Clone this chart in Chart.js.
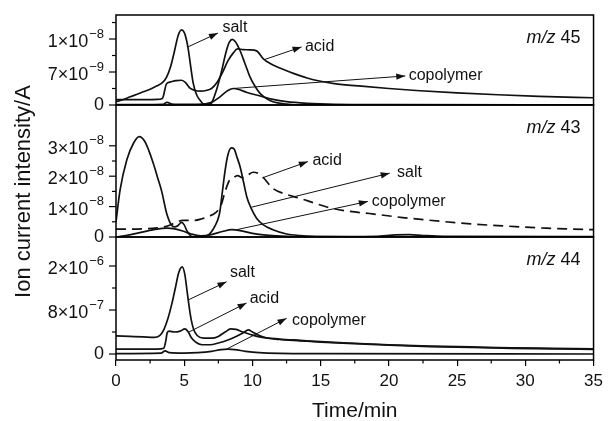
<!DOCTYPE html>
<html>
<head>
<meta charset="utf-8">
<script src="https://cdn.jsdelivr.net/npm/chart.js@4.4.1/dist/chart.umd.min.js"></script>
<style>
  html, body { margin: 0; padding: 0; background: #fff; }
  canvas { display: block; }
</style>
</head>
<body>
<canvas id="c" width="608" height="421"></canvas>
<script>
// ---- m/z 45 (values in 1e-9 A) ----
const tSalt45 = [0, 0.5, 1, 1.5, 2, 2.5, 3, 3.4, 3.7, 4.0, 4.3, 4.55, 4.8, 5.0, 5.15, 5.3, 5.45, 5.65, 5.9, 6.15, 6.5, 6.8, 7.0, 7.37, 7.7, 8.1, 8.3, 8.52, 8.75, 9.08, 9.45, 9.81, 10.2, 10.54, 11.0, 11.5, 12.5, 13.5, 20, 27, 35];
const vSalt45 = [0.5, 0.8, 1.2, 1.6, 2.0, 2.4, 2.9, 3.4, 4.2, 5.8, 8.3, 10.5, 11.4, 11.0, 10.0, 8.4, 6.2, 3.4, 1.6, 0.75, 0.05, 0.05, 0.3, 2.3, 4.8, 8.3, 9.5, 9.95, 9.6, 8.3, 6.3, 4.3, 2.8, 1.8, 1.0, 0.5, 0.15, 0.0, 0.0, 0.0, 0.0];
const tAcid45 = [0, 1, 2, 3, 3.4, 3.7, 4.0, 4.4, 4.8, 5.1, 5.4, 5.8, 6.2, 6.6, 7.0, 7.4, 7.8, 8.2, 8.6, 8.9, 9.3, 9.8, 10.3, 10.8, 11.3, 12, 13, 14, 15, 16, 18, 20, 22, 25, 28, 31, 35];
const vAcid45 = [0.8, 0.8, 0.8, 0.85, 1.0, 3.2, 3.5, 3.7, 3.75, 3.4, 2.6, 2.2, 2.1, 2.2, 2.5, 3.4, 4.9, 6.7, 7.9, 8.5, 8.4, 8.35, 8.2, 7.0, 6.3, 5.6, 4.8, 4.1, 3.6, 3.25, 2.85, 2.5, 2.2, 1.85, 1.55, 1.3, 1.1];
const tCopo45 = [0, 3.4, 3.75, 4.1, 5, 6, 7, 7.6, 8.2, 8.6, 9.0, 9.6, 10.5, 11.5, 12.5, 14, 16, 20, 35];
const vCopo45 = [0.05, 0.1, 0.4, 0.15, 0.1, 0.1, 0.4, 1.2, 2.2, 2.5, 2.35, 1.9, 1.4, 0.85, 0.5, 0.25, 0.1, 0.05, 0.0];

// ---- m/z 43 (values in 1e-8 A) ----
const tSalt43 = [0, 0.3, 0.8, 1.3, 1.7, 2.1, 2.4, 2.75, 3.05, 3.35, 3.7, 4.05, 4.3, 4.55, 4.8, 5.0, 5.2, 5.5, 5.8, 6.3, 6.8, 7.1, 7.4, 7.6, 7.8, 8.0, 8.2, 8.45, 8.65, 8.85, 9.1, 9.35, 9.6, 9.9, 10.3, 10.8, 11.5, 12.5, 13.5, 15, 20, 35];
const vSalt43 = [0.5, 1.55, 2.55, 3.1, 3.3, 3.15, 2.85, 2.4, 1.95, 1.5, 0.8, 0.4, 0.33, 0.38, 0.48, 0.4, 0.2, 0.03, 0.0, 0.02, 0.08, 0.24, 0.5, 0.8, 1.5, 2.2, 2.7, 2.93, 2.9, 2.65, 2.3, 1.8, 1.3, 0.95, 0.62, 0.4, 0.24, 0.1, 0.05, 0.01, 0, 0];
const tAcid43 = [0, 1, 2, 3, 3.7, 4.1, 4.5, 4.9, 5.3, 5.8, 6.3, 6.8, 7.3, 7.7, 8.0, 8.3, 8.6, 8.9, 9.3, 9.7, 10.05, 10.4, 10.8, 11.5, 12.5, 13.5, 14.5, 15.5, 17, 18.8, 21, 23.7, 26, 28.6, 31.5, 35];
const vAcid43 = [0.26, 0.26, 0.27, 0.3, 0.35, 0.42, 0.5, 0.55, 0.55, 0.55, 0.6, 0.68, 0.8, 1.05, 1.5, 1.85, 1.95, 2.02, 1.95, 2.05, 2.13, 2.1, 1.95, 1.6, 1.4, 1.27, 1.12, 0.98, 0.85, 0.76, 0.64, 0.52, 0.43, 0.36, 0.29, 0.24];
const tCopo43 = [0, 1, 2, 3, 3.7, 4.3, 5, 5.5, 6.2, 7, 7.8, 8.5, 9.2, 10, 11, 12.5, 15, 19, 20.5, 21.5, 22.5, 24, 35];
const vCopo43 = [0.0, 0.07, 0.17, 0.26, 0.29, 0.27, 0.18, 0.1, 0.04, 0.08, 0.18, 0.24, 0.2, 0.12, 0.06, 0.02, 0.01, 0.02, 0.07, 0.08, 0.05, 0.02, 0.01];

// ---- m/z 44 (values in 1e-6 A) ----
const tSalt44 = [0, 1, 2, 2.8, 3.2, 3.5, 3.8, 4.1, 4.35, 4.6, 4.85, 5.05, 5.2, 5.35, 5.5, 5.7, 5.95, 6.4, 7.0, 7.5, 8.0, 8.4, 8.8, 9.3, 9.8, 10.5, 12, 13.5, 15, 17, 20, 23, 26, 29, 32, 35];
const vSalt44 = [0.41, 0.40, 0.39, 0.38, 0.42, 0.55, 0.8, 1.15, 1.5, 1.85, 1.98, 1.8, 1.45, 1.1, 0.8, 0.55, 0.42, 0.36, 0.36, 0.4, 0.5, 0.57, 0.56, 0.5, 0.45, 0.39, 0.34, 0.31, 0.28, 0.25, 0.21, 0.18, 0.16, 0.14, 0.13, 0.12];
const tAcid44 = [0, 1, 2, 3, 3.5, 3.65, 3.75, 3.9, 4.3, 4.7, 5.05, 5.3, 5.5, 5.8, 6.3, 6.9, 7.5, 8.2, 8.8, 9.3, 9.7, 10.0, 10.5, 11, 12, 13.5, 15, 17, 20, 23, 26, 29, 32, 35];
const vAcid44 = [0.11, 0.11, 0.11, 0.11, 0.13, 0.3, 0.48, 0.52, 0.5, 0.52, 0.57, 0.5, 0.38, 0.28, 0.21, 0.21, 0.25, 0.32, 0.4, 0.48, 0.55, 0.5, 0.42, 0.37, 0.33, 0.3, 0.27, 0.24, 0.2, 0.17, 0.15, 0.13, 0.115, 0.105];
const tCopo44 = [0, 3.3, 3.6, 3.9, 5, 6, 7, 7.7, 8.2, 8.7, 9.5, 10.5, 12, 15, 35];
const vCopo44 = [0.01, 0.02, 0.07, 0.03, 0.02, 0.03, 0.06, 0.1, 0.11, 0.1, 0.06, 0.03, 0.015, 0.01, 0.0];

// ---- axis ticks ----
const xTicksMinor = [2.5, 7.5, 12.5, 17.5, 22.5, 27.5, 32.5];
const yTicks45 = [0, 5, 10];
const yLabels45 = ['0', '7×10^-9', '1×10^-8'];
const yMinor45 = [2.5, 7.5, 12.5];
const yTicks43 = [0, 1, 2, 3];
const yLabels43 = ['0', '1×10^-8', '2×10^-8', '3×10^-8'];
const yMinor43 = [0.5, 1.5, 2.5];
const yTicks44 = [0, 1, 2];
const yLabels44 = ['0', '8×10^-7', '2×10^-6'];
const yMinor44 = [0.5, 1.5];

const FONT = '"Liberation Sans", Arial, Helvetica, sans-serif';
const INK = '#111';

const panels = [
  { id: 'y45', ion: '45', ticks: yTicks45, labels: yLabels45, minor: yMinor45 },
  { id: 'y43', ion: '43', ticks: yTicks43, labels: yLabels43, minor: yMinor43 },
  { id: 'y44', ion: '44', ticks: yTicks44, labels: yLabels44, minor: yMinor44 }
];

const curves = [
  { axis: 'y45', t: tSalt45, v: vSalt45 },
  { axis: 'y45', t: tAcid45, v: vAcid45 },
  { axis: 'y45', t: tCopo45, v: vCopo45 },
  { axis: 'y43', t: tSalt43, v: vSalt43 },
  { axis: 'y43', t: tAcid43, v: vAcid43, dash: [10, 6] },
  { axis: 'y43', t: tCopo43, v: vCopo43 },
  { axis: 'y44', t: tSalt44, v: vSalt44 },
  { axis: 'y44', t: tAcid44, v: vAcid44 },
  { axis: 'y44', t: tCopo44, v: vCopo44 }
];

// callouts: arrow from a curve point toward its name (time, panel units)
const callouts = [
  { axis: 'y45', text: 'salt', from: [5.27, 8.8], to: [7.47, 10.9], at: [7.8, 11.7] },
  { axis: 'y45', text: 'acid', from: [10.9, 6.9], to: [13.6, 8.8], at: [13.85, 8.8] },
  { axis: 'y45', text: 'copolymer', from: [8.57, 2.5], to: [21.2, 4.4], at: [21.45, 4.4] },
  { axis: 'y43', text: 'acid', from: [10.76, 1.95], to: [14.06, 2.48], at: [14.4, 2.51] },
  { axis: 'y43', text: 'salt', from: [9.93, 0.98], to: [20.06, 2.1], at: [20.6, 2.12] },
  { axis: 'y43', text: 'copolymer', from: [8.83, 0.24], to: [18.46, 1.17], at: [18.75, 1.16] },
  { axis: 'y44', text: 'salt', from: [5.3, 1.23], to: [8.1, 1.64], at: [8.35, 1.86] },
  { axis: 'y44', text: 'acid', from: [5.35, 0.5], to: [9.57, 1.16], at: [9.8, 1.27] },
  { axis: 'y44', text: 'copolymer', from: [8.1, 0.11], to: [12.5, 0.81], at: [12.9, 0.75] }
];

function points(ts, vs) {
  return ts.map((t, i) => ({ x: t, y: vs[i] }));
}

function drawPowerLabel(ctx, text, xRight, y) {
  const parts = text.split('^');
  ctx.fillStyle = INK;
  ctx.textBaseline = 'middle';
  if (parts.length === 1) {
    ctx.font = '18px ' + FONT;
    ctx.textAlign = 'right';
    ctx.fillText(parts[0], xRight, y);
    return;
  }
  const base = parts[0];
  const exp = parts[1].replace('-', '\u2212');
  ctx.font = '18px ' + FONT;
  const wb = ctx.measureText(base).width;
  ctx.font = '13px ' + FONT;
  const we = ctx.measureText(exp).width;
  const x0 = xRight - wb - we - 1;
  ctx.textAlign = 'left';
  ctx.font = '18px ' + FONT;
  ctx.fillText(base, x0, y + 3);
  ctx.font = '13px ' + FONT;
  ctx.fillText(exp, x0 + wb + 1, y - 5);
}

function drawArrow(ctx, x1, y1, x2, y2) {
  ctx.beginPath();
  ctx.moveTo(x1, y1);
  ctx.lineTo(x2, y2);
  ctx.stroke();
  const a = Math.atan2(y2 - y1, x2 - x1);
  const L = 9, W = 3.2;
  ctx.beginPath();
  ctx.moveTo(x2, y2);
  ctx.lineTo(x2 - L * Math.cos(a) + W * Math.sin(a), y2 - L * Math.sin(a) - W * Math.cos(a));
  ctx.lineTo(x2 - L * Math.cos(a) - W * Math.sin(a), y2 - L * Math.sin(a) + W * Math.cos(a));
  ctx.closePath();
  ctx.fill();
}

const decor = {
  id: 'decor',
  afterDraw(chart) {
    const { ctx, chartArea: area, scales } = chart;
    const xs = scales.x;
    ctx.save();

    // panel frames
    ctx.strokeStyle = '#000';
    ctx.lineWidth = 1.5;
    panels.forEach(p => {
      const s = scales[p.id];
      ctx.strokeRect(area.left, s.top, area.right - area.left, s.bottom - s.top);
    });

    // y ticks and labels
    ctx.lineWidth = 1.2;
    panels.forEach(p => {
      const s = scales[p.id];
      p.ticks.forEach((v, i) => {
        const py = s.getPixelForValue(v);
        ctx.beginPath();
        ctx.moveTo(area.left - 7, py);
        ctx.lineTo(area.left, py);
        ctx.stroke();
        drawPowerLabel(ctx, p.labels[i], area.left - 12, py);
      });
      p.minor.forEach(v => {
        const py = s.getPixelForValue(v);
        ctx.beginPath();
        ctx.moveTo(area.left - 4, py);
        ctx.lineTo(area.left, py);
        ctx.stroke();
      });
      // ion label
      ctx.fillStyle = INK;
      ctx.textBaseline = 'middle';
      ctx.textAlign = 'left';
      ctx.font = '18px ' + FONT;
      const num = ' ' + p.ion;
      const wn = ctx.measureText(num).width;
      ctx.font = 'italic 18px ' + FONT;
      const wi = ctx.measureText('m/z').width;
      const xr = area.right - 13;
      const yy = s.top + 23;
      ctx.fillText('m/z', xr - wn - wi, yy);
      ctx.font = '18px ' + FONT;
      ctx.fillText(num, xr - wn, yy);
    });

    // minor x ticks
    xTicksMinor.forEach(t => {
      const px = xs.getPixelForValue(t);
      ctx.beginPath();
      ctx.moveTo(px, area.bottom);
      ctx.lineTo(px, area.bottom + 3.5);
      ctx.stroke();
    });

    // callouts
    ctx.lineWidth = 1;
    ctx.strokeStyle = '#111';
    ctx.fillStyle = '#111';
    callouts.forEach(c => {
      const s = scales[c.axis];
      drawArrow(ctx,
        xs.getPixelForValue(c.from[0]), s.getPixelForValue(c.from[1]),
        xs.getPixelForValue(c.to[0]), s.getPixelForValue(c.to[1]));
      ctx.font = '16px ' + FONT;
      ctx.textAlign = 'left';
      ctx.textBaseline = 'middle';
      ctx.fillText(c.text, xs.getPixelForValue(c.at[0]), s.getPixelForValue(c.at[1]));
    });

    // axis titles
    ctx.fillStyle = INK;
    ctx.font = '21px ' + FONT;
    ctx.textAlign = 'center';
    ctx.textBaseline = 'alphabetic';
    ctx.fillText('Time/min', (area.left + area.right) / 2, 417);

    ctx.save();
    ctx.translate(30, (area.top + area.bottom) / 2 + 4);
    ctx.rotate(-Math.PI / 2);
    ctx.font = '22px ' + FONT;
    ctx.textAlign = 'center';
    ctx.textBaseline = 'alphabetic';
    ctx.fillText('Ion current intensity/A', 0, 0);
    ctx.restore();

    ctx.restore();
  }
};

function yScale(min, max, weight) {
  return {
    type: 'linear',
    position: 'left',
    stack: 'ion',
    stackWeight: weight,
    min: min,
    max: max,
    grid: { display: false },
    border: { display: false },
    ticks: { display: false },
    afterFit(s) { s.width = 116; }
  };
}

new Chart(document.getElementById('c'), {
  type: 'line',
  data: {
    datasets: curves.map(c => ({
      data: points(c.t, c.v),
      yAxisID: c.axis,
      borderColor: '#111',
      borderWidth: 1.7,
      borderDash: c.dash || [],
      pointRadius: 0,
      fill: false,
      cubicInterpolationMode: 'monotone'
    }))
  },
  options: {
    responsive: false,
    devicePixelRatio: 1,
    animation: false,
    events: [],
    layout: { padding: { top: 15, right: 14, left: 0, bottom: 0 } },
    plugins: { legend: { display: false }, tooltip: { enabled: false } },
    scales: {
      x: {
        type: 'linear',
        position: 'bottom',
        min: 0,
        max: 35,
        grid: { display: true, drawOnChartArea: false, drawTicks: true, tickLength: 6, color: '#000', lineWidth: 1.2 },
        border: { display: false },
        ticks: { stepSize: 5, color: INK, font: { size: 17, family: FONT }, padding: 5, maxRotation: 0 },
        afterFit(s) { s.height = 61; }
      },
      y44: yScale(-0.136, 2.659, 123),
      y43: yScale(0, 4.342, 132),
      y45: yScale(0, 13.64, 90)
    }
  },
  plugins: [decor]
});
</script>
</body>
</html>
